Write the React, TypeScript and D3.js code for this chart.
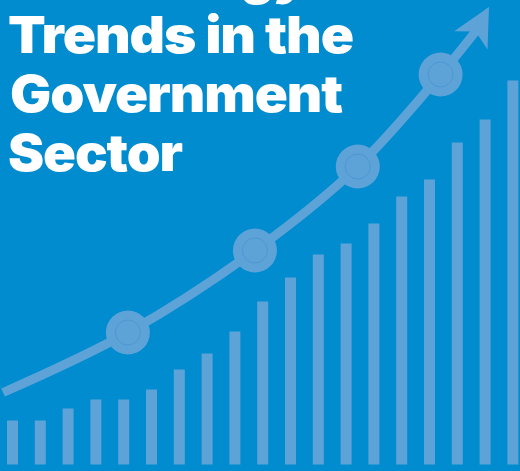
import React, { useEffect, useRef } from "react";
import * as d3 from "d3";

// bar heights (bottom = 0)
const barValues = [44, 44, 56, 65, 65, 75, 95, 111, 133, 163, 187, 210, 221, 241, 268, 285, 322, 345, 384];

// trend line through the markers, x in bar-index units
const trendX = [-0.34, 4.15, 8.72, 12.42, 15.4, 16.67];
const trendY = [72, 132, 214, 298, 390, 433.5];
const markerIdx = [1, 2, 3, 4];

const titleLines = ["Technology", "Trends in the", "Government", "Sector"];
const titleWidths = [297, 345, 332, 174];

const W = 520;
const H = 471;
const BG = "#008ccf";
const FG = "#5ea3d8";

export default function App() {
  const svgRef = useRef<SVGSVGElement>(null);

  useEffect(() => {
    if (!svgRef.current) return;
    const svg = d3.select(svgRef.current);
    svg.selectAll("*").remove();

    const x = d3.scaleLinear().domain([0, barValues.length - 1]).range([12.5, 512.9]);
    const y = d3.scaleLinear().domain([0, 400]).range([464.5, 64.5]);
    const barW = 11;

    svg.append("rect").attr("width", W).attr("height", H).attr("fill", BG);

    svg
      .append("g")
      .selectAll("rect")
      .data(barValues)
      .enter()
      .append("rect")
      .attr("x", (_d, i) => x(i) - barW / 2)
      .attr("y", (d) => y(d))
      .attr("width", barW)
      .attr("height", (d) => y(0) - y(d))
      .attr("fill", FG);

    const pts: [number, number][] = trendX.map((v, i) => [x(v), y(trendY[i])]);
    const line = d3.line().curve(d3.curveCatmullRom.alpha(0.5));

    svg
      .append("path")
      .attr("d", line(pts))
      .attr("fill", "none")
      .attr("stroke", FG)
      .attr("stroke-width", 9);

    // arrow head, pointing from the line end to the tip
    const tip: [number, number] = [489, 7];
    const end = pts[pts.length - 1];
    const ang = Math.atan2(tip[1] - end[1], tip[0] - end[0]);
    svg
      .append("path")
      .attr("transform", `translate(${tip[0]},${tip[1]}) rotate(${(ang * 180) / Math.PI})`)
      .attr("d", "M0,0 L-38,-19 L-28,0 L-38,19 Z")
      .attr("fill", FG);

    const markers = svg.append("g");
    markerIdx.forEach((i) => {
      const [cx, cy] = pts[i];
      markers.append("circle").attr("cx", cx).attr("cy", cy).attr("r", 22).attr("fill", FG);
      markers
        .append("circle")
        .attr("cx", cx)
        .attr("cy", cy)
        .attr("r", 12.5)
        .attr("fill", "none")
        .attr("stroke", "#4b98d3")
        .attr("stroke-width", 1);
    });

    const baselines = [-6, 53, 112, 171];
    const lefts = [8, 8, 10, 8];
    svg
      .append("g")
      .selectAll("text")
      .data(titleLines)
      .enter()
      .append("text")
      .attr("x", (_d, i) => lefts[i])
      .attr("y", (_d, i) => baselines[i])
      .attr("textLength", (_d, i) => titleWidths[i])
      .attr("lengthAdjust", "spacingAndGlyphs")
      .style("font-family", "Inter, 'Open Sans', sans-serif")
      .style("font-weight", "900")
      .style("font-size", "51px")
      .style("letter-spacing", "-1px")
      .style("fill", "#ffffff")
      .text((d) => d);
  }, []);

  return (
    <svg
      ref={svgRef}
      width={W}
      height={H}
      style={{ position: "absolute", left: 0, top: 0, display: "block" }}
    />
  );
}
